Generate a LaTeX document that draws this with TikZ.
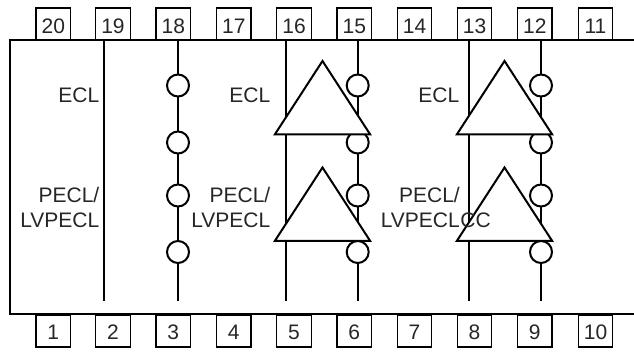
\documentclass[tikz,border=0pt]{standalone}
\usepackage{fontspec}
\setmainfont{Liberation Sans}
\tikzset{
  every node/.style={font=\fontsize{21}{25.7}\selectfont, text=black!85},
  thickline/.style={line width=2pt, black},
  pintop/.style={draw=black, line width=1.3pt, inner sep=0pt, minimum width=34.5pt, text height=26pt, text depth=6pt},
  pinbot/.style={draw=black, line width=1.3pt, inner sep=0pt, minimum width=34.5pt, text height=25pt, text depth=7pt},
  bubble/.style={circle, draw=black, fill=white, line width=2pt, inner sep=0pt, minimum size=22pt},
  tri/.style={draw=black, fill=white, line width=2pt, line join=miter},
  lab/.style={align=right, anchor=east, inner sep=0pt},
}
\begin{document}
\begin{tikzpicture}[x=1pt,y=-1pt]
\useasboundingbox (0,0) rectangle (634,352);
% pins
\foreach \n/\x in {20/53.3,19/113,18/173.3,17/233.8,16/294,15/354.3,14/414.5,13/474.5,12/534.8,11/595.5}
  \node[pintop] (p\n) at (\x,24) {\n};
\foreach \n/\x in {1/53.3,2/113,3/173.3,4/233.8,5/294,6/354.3,7/414.5,8/474.5,9/534.8,10/595.5}
  \node[pinbot] (p\n) at (\x,331) {\n};
% body outline
\coordinate (bodyTR) at (634,40.5);
\coordinate (bodyTL) at (9.5,40.5);
\coordinate (bodyBL) at (9.5,314.5);
\coordinate (bodyBR) at (634,314.5);
\draw[thickline, line join=miter] (bodyTR) -- (bodyTL) -- (bodyBL) -- (bodyBR);
% vertical signal lines
\foreach \nm/\x in {19/104,18/178,16/286,15/357.7,13/468.7,12/541}{
  \coordinate (t\nm) at (\x,40.5);
  \coordinate (e\nm) at (\x,301);
  \draw[thickline] (t\nm) -- (e\nm);
}
% bubbles
\foreach \nm/\x in {18/178,15/357.7,12/541}{
  \node[bubble] (b\nm a) at (\x,85.5) {};
  \node[bubble] (b\nm b) at (\x,142.5) {};
  \node[bubble] (b\nm c) at (\x,195.5) {};
  \node[bubble] (b\nm d) at (\x,252) {};
}
% triangles
\foreach \nm/\xc in {a/322.5,b/504.5}{
  \draw[tri] (\xc-47.7,134.5) coordinate (\nm L1) -- (\xc,61) coordinate (\nm T1) -- (\xc+47.7,134.5) coordinate (\nm R1) -- cycle;
  \draw[tri] (\xc-47.7,241) coordinate (\nm L2) -- (\xc,167.5) coordinate (\nm T2) -- (\xc+47.7,241) coordinate (\nm R2) -- cycle;
}
% labels
\node[lab] (l1) at (99.5,95.3) {ECL};
\node[lab] (l2) at (99.5,207.5) {PECL/\\LVPECL};
\node[lab] (l3) at (270.5,95.3) {ECL};
\node[lab] (l4) at (270.5,207.5) {PECL/\\LVPECL};
\node[lab] (l5) at (459.5,95.3) {ECL};
\node[lab] (l6) at (460,207.5) {PECL/\\LVPECL};
\node[lab] (l7) at (491,220.5) {CC};
\end{tikzpicture}
\end{document}
